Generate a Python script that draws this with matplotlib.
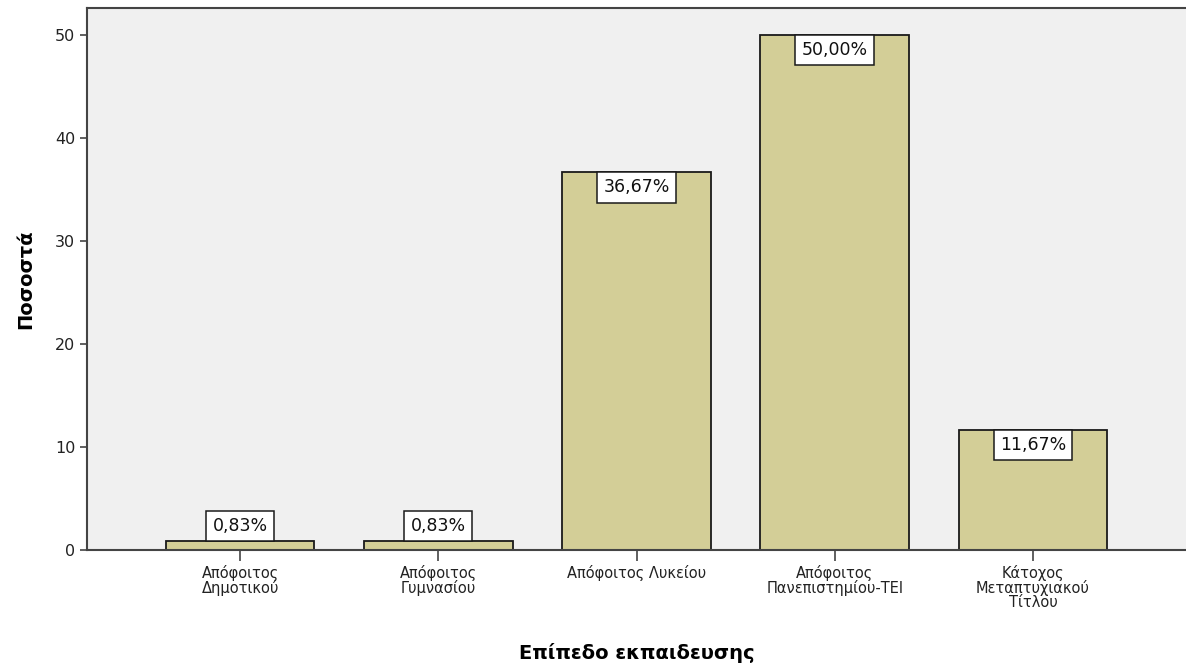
import matplotlib
matplotlib.use("Agg")
import matplotlib.pyplot as plt

# Education level distribution (percent of respondents)
categories = [
    "Απόφοιτος\nΔημοτικού",
    "Απόφοιτος\nΓυμνασίου",
    "Απόφοιτος Λυκείου",
    "Απόφοιτος\nΠανεπιστημίου-ΤΕΙ",
    "Κάτοχος\nΜεταπτυχιακού\nΤίτλου",
]
percentages = [0.83, 0.83, 36.67, 50.00, 11.67]
y_ticks = [0, 10, 20, 30, 40, 50]

plt.rcParams["font.family"] = ["DejaVu Sans"]

fig = plt.figure(figsize=(11.86, 6.66), dpi=100)
ax = fig.add_axes([0.0734, 0.1742, 0.9266, 0.8138])
ax.set_facecolor("#F0F0F0")

x = list(range(len(categories)))
ax.bar(x, percentages, width=0.75, color="#D3CE97", edgecolor="#1A1A1A", linewidth=1.3, zorder=2)

# value boxes: hang from the top of tall bars, sit on short ones
fs = 12.5
pad = 0.36
for xi, v in zip(x, percentages):
    txt = f"{v:.2f}%".replace(".", ",")
    inside = v > 5
    off = fs * pad
    ax.annotate(txt, (xi, v), xytext=(0, -off if inside else off), textcoords="offset points",
                ha="center", va="top" if inside else "bottom", fontsize=fs, color="#111111",
                bbox=dict(boxstyle=f"square,pad={pad}", fc="white", ec="#1A1A1A", lw=1.1),
                zorder=3)

ax.set_xlim(-0.772, 4.772)
ax.set_ylim(0, 52.6)
ax.set_yticks(y_ticks)
ax.set_xticks(x)
ax.set_xticklabels(categories, fontsize=10.5, linespacing=0.9, color="#222222")
ax.tick_params(axis="y", labelsize=11.5, length=5, width=1.2, color="#444444", labelcolor="#222222")
ax.tick_params(axis="x", length=8, width=1.2, color="#444444", pad=3)

for side in ["left", "top", "bottom"]:
    ax.spines[side].set_color("#444444")
    ax.spines[side].set_linewidth(1.5)
ax.spines["right"].set_visible(False)

ax.set_ylabel("Ποσοστά", fontsize=14, fontweight="bold", labelpad=14)
ax.set_xlabel("Επίπεδο εκπαιδευσης", fontsize=14, fontweight="bold", labelpad=24)

fig.savefig("out.png", dpi=100)
